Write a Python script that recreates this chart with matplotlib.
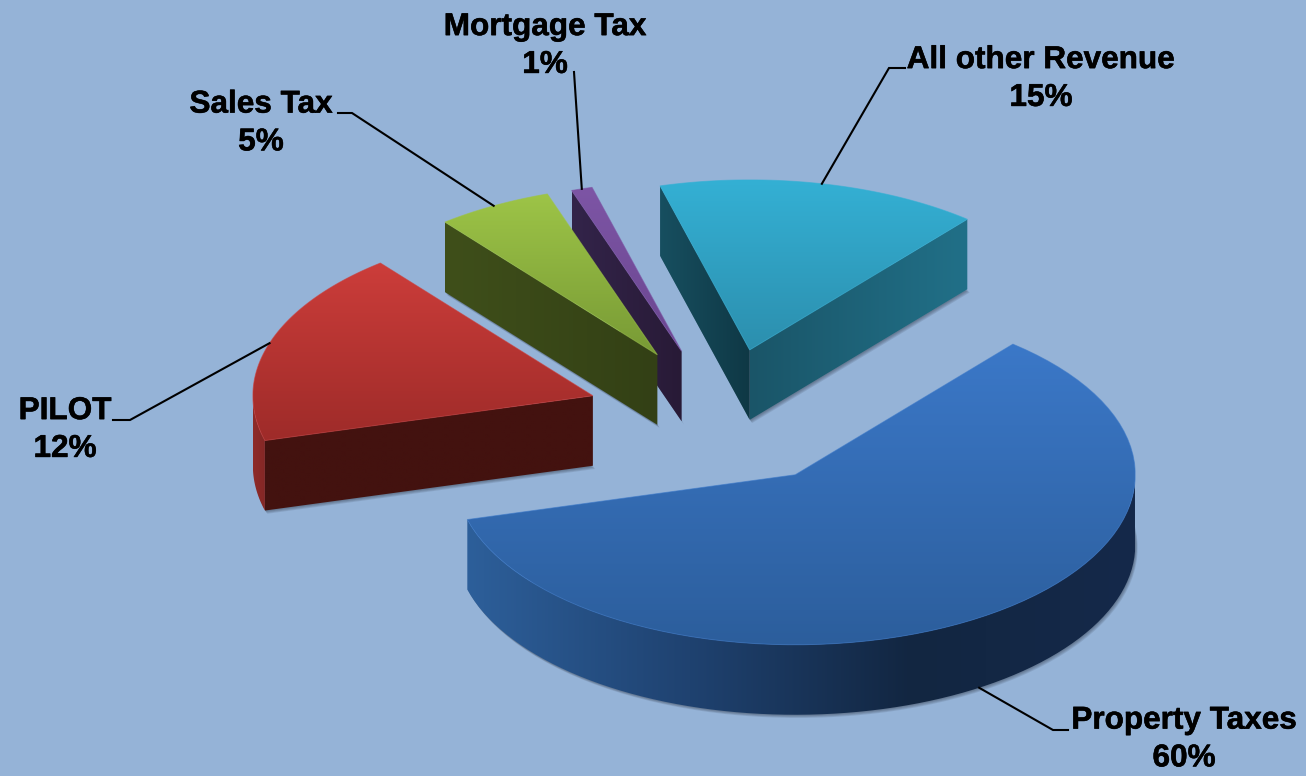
import matplotlib
matplotlib.use('Agg')
import matplotlib.pyplot as plt
import matplotlib.patheffects as pe
import numpy as np
from matplotlib.colors import LinearSegmentedColormap
from matplotlib.patches import Polygon

# slices in clockwise order, shares read from the drawn angles
# (the printed labels do not add up to 100, so they are kept apart)
names = ['Property Taxes', 'PILOT', 'Sales Tax', 'Mortgage Tax', 'All other Revenue']
shares = [59.7, 18.5, 5.5, 1.0, 15.3]
percent_labels = ['60%', '12%', '5%', '1%', '15%']

top_colors = [('#3B78C8', '#2C5E9C'), ('#CC3D3A', '#9E2B29'), ('#9DC447', '#789A35'),
              ('#7D55A5', '#6A4690'), ('#34B0D4', '#2C8FAE')]
start_face = [None, ('#43120F', '#43120F'), ('#3F4F1A', '#334015'),
              ('#33244A', '#281A36'), ('#174F60', '#0F3845')]
end_face = [None, None, None, None, ('#1A5568', '#217088')]
wall_colors = [['#2D5F9A', '#1F4270', '#122641', '#15294A'], ['#8E2B29', '#842725'], None, None, None]

label_xy = [(1184, 739.5), (65, 430), (261, 123.5), (545, 46), (1041, 79)]
elbow_xy = [[(1068, 730), (1053, 730)], [(113, 420), (130, 420)], [(338, 113), (352, 113)],
            [(574, 72)], [(905, 68), (889, 68)]]

# pie geometry in pixels
cx, cy = 721, 417
rx, ry = 340, 170
depth = 70
explode = 0.404
nudge = [(0, 0), (2.5, 0), (2.5, -2), (1, 0), (-0.5, 0)]
start_angle = 50.2
bg = '#95B3D7'

fig = plt.figure(figsize=(13.06, 7.76), dpi=100, facecolor=bg)
ax = fig.add_axes([0, 0, 1, 1])
ax.set_facecolor(bg)
ax.axis('off')

z = [1]


def gradient_fill(xs, ys, colors, vertical=False, edge=None):
    z[0] += 1
    cmap = LinearSegmentedColormap.from_list('g', colors)
    patch = Polygon(np.column_stack([xs, ys]), closed=True, facecolor='none', edgecolor='none', zorder=z[0])
    ax.add_patch(patch)
    ramp = np.linspace(0, 1, 256)
    ramp = ramp.reshape(-1, 1) if vertical else ramp.reshape(1, -1)
    im = ax.imshow(ramp, cmap=cmap, origin='upper', aspect='auto', interpolation='bilinear',
                   extent=(min(xs), max(xs), max(ys), min(ys)), zorder=z[0])
    im.set_clip_path(patch)
    if edge:
        z[0] += 1
        ax.add_patch(Polygon(np.column_stack([xs, ys]), closed=True, facecolor='none',
                             edgecolor=edge, lw=0.7, alpha=0.6, zorder=z[0]))


def rim(ox, oy, a0, a1, n=80):
    t = np.radians(np.linspace(a0, a1, n))
    return ox + rx * np.cos(t), oy - ry * np.sin(t)


# angles of each slice, going clockwise
ends = start_angle - 3.6 * np.cumsum(shares)
starts = np.concatenate([[start_angle], ends[:-1]])
mids = (starts + ends) / 2
ox = cx + explode * rx * np.cos(np.radians(mids)) + np.array([n[0] for n in nudge])
oy = cy - explode * ry * np.sin(np.radians(mids)) + np.array([n[1] for n in nudge])

# back to front
for i in reversed(range(len(shares))):
    a0, a1 = starts[i], ends[i]
    rx_pts, ry_pts = rim(ox[i], oy[i], a0, a1)

    # soft shadow under the bottom face
    xs = np.concatenate([[ox[i]], rx_pts])
    ys = np.concatenate([[oy[i]], ry_pts])
    z[0] += 1
    for k in range(1, 5):
        ax.add_patch(Polygon(np.column_stack([xs + k * 0.6, ys + depth + k * 0.8]), closed=True,
                             facecolor='#2A3240', edgecolor='none', alpha=0.13, zorder=z[0]))

    # outer wall, only the part facing the viewer
    if wall_colors[i] is not None:
        wx, wy = rim(ox[i], oy[i], min(a0, 0), max(a1, -180))
        gradient_fill(np.concatenate([wx[::-1], wx]), np.concatenate([wy[::-1], wy + depth]), wall_colors[i])

    # cut faces
    for a, cols in ((a0, start_face[i]), (a1, end_face[i])):
        if cols is None:
            continue
        ex = ox[i] + rx * np.cos(np.radians(a))
        ey = oy[i] - ry * np.sin(np.radians(a))
        gradient_fill([ox[i], ex, ex, ox[i]], [oy[i], ey, ey + depth, oy[i] + depth], cols)

    # top
    gradient_fill(xs, ys, top_colors[i], vertical=True, edge=top_colors[i][0])

# leader lines start at the rim in the middle of each slice
z[0] += 1
for i in range(len(shares)):
    t = np.radians(mids[i])
    px = ox[i] + rx * np.cos(t)
    py = oy[i] - ry * np.sin(t)
    if np.sin(t) < 0:
        py = py + depth
    pts = elbow_xy[i] + [(px, py)]
    ax.plot([p[0] for p in pts], [p[1] for p in pts], color='black', lw=1.5, zorder=z[0],
            solid_joinstyle='miter')
    ax.text(label_xy[i][0], label_xy[i][1], names[i] + '\n' + percent_labels[i], ha='center', va='center',
            fontsize=22.7, fontweight='bold', family='Liberation Sans', color='black',
            linespacing=1.34, zorder=z[0] + 1,
            path_effects=[pe.withStroke(linewidth=0.4, foreground='black')])

ax.set_xlim(0, 1306)
ax.set_ylim(776, 0)

fig.savefig('out.png', dpi=100, facecolor=bg)
